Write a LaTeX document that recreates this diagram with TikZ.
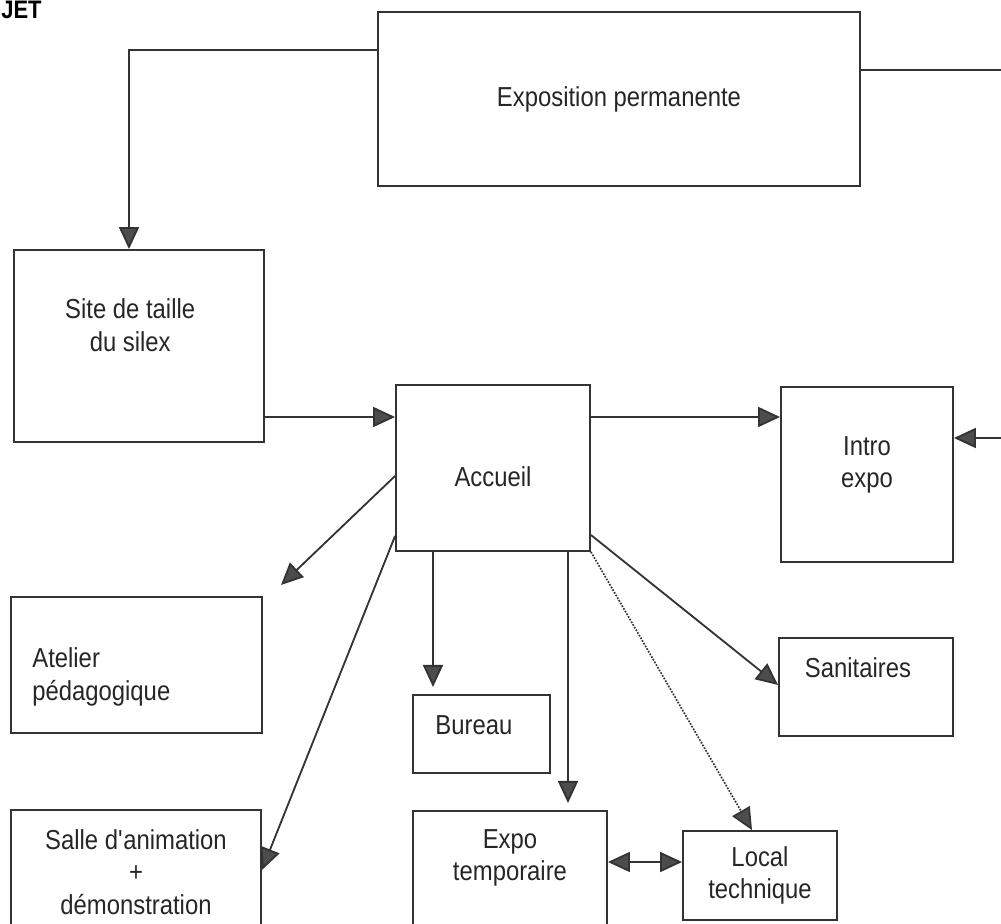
\documentclass[tikz,border=0pt]{standalone}
\usepackage{fontspec}
\setmainfont{Liberation Sans}[FakeStretch=0.87]
\usepackage{tikz}
\usetikzlibrary{arrows.meta}
\tikzset{box/.style={draw=black!80, line width=1.3pt, rectangle, inner sep=0pt, text=black!85}}
\tikzset{txt/.style={align=center, inner sep=0pt, text=black!85}}
\tikzset{link/.style={draw=black!80, line width=1.3pt, -{Triangle[length=5.5mm, width=5mm, fill=black!70]}}}
\tikzset{both/.style={draw=black!80, line width=1.3pt, {Triangle[length=5.5mm, width=5mm, fill=black!70]}-{Triangle[length=5.5mm, width=5mm, fill=black!70]}}}

\begin{document}
\begin{tikzpicture}[x=0.025cm, y=-0.025cm, font=\fontsize{19.5}{23}\selectfont]
{
\useasboundingbox (0,0) rectangle (1001,924);
\clip (0,0) rectangle (1001,924);
\node[anchor=base west, inner sep=0pt, font=\fontsize{18}{20}\selectfont\bfseries] (titre) at (1,19) {JET};

\node[box, minimum width=12.05cm, minimum height=4.35cm] (expo) at (619,99) {Exposition permanente};
\node[box, minimum width=6.25cm, minimum height=4.8cm, label={[txt, xshift=-0.22cm, yshift=0.52cm]center:Site de taille\\du silex}] (site) at (139,346) {};
\node[box, minimum width=4.85cm, minimum height=4.15cm, label={[txt, yshift=-0.22cm]center:Accueil}] (accueil) at (493,468) {};
\node[box, minimum width=4.3cm, minimum height=4.375cm, label={[txt, yshift=0.24cm]center:Intro\\expo}] (intro) at (867,474.5) {};
\node[box, minimum width=6.275cm, minimum height=3.4cm, label={[txt, align=left, anchor=west, xshift=0.55cm, yshift=-0.3cm]west:Atelier\\pédagogique}] (atelier) at (136.5,665) {};
\node[box, minimum width=3.425cm, minimum height=1.95cm, label={[txt, xshift=-0.19cm, yshift=0.22cm]center:Bureau}] (bureau) at (481.5,734) {};
\node[box, minimum width=4.35cm, minimum height=2.45cm, label={[txt, xshift=-0.2cm, yshift=0.48cm]center:Sanitaires}] (sanit) at (866,687) {};
\node[box, minimum width=6.25cm, minimum height=3.5cm, label={[txt, yshift=0.2cm]center:Salle d\textquotesingle animation\\+\\démonstration}] (salle) at (136,880) {};
\node[box, minimum width=4.85cm, minimum height=3.475cm, label={[txt, yshift=0.56cm]center:Expo\\temporaire}] (exptemp) at (510,880.5) {};
\node[box, minimum width=3.85cm, minimum height=2.225cm, label={[txt]center:Local\\technique}] (local) at (760,875.5) {};

\coordinate (sortie) at (1005,70);
\coordinate (entree) at (1005,438);
\coordinate (ateliertip) at (281,585);
\coordinate (bureautip) at (433,687);
\coordinate (exptemptip) at (568,803);

\draw[link] (expo.west |- 0,50) -| (site.north -| 129,0);
\draw[draw=black!80, line width=1.3pt] (expo.east |- sortie) -- (sortie);
\draw[link] (entree) -- (intro.east |- entree);
\draw[link] (site.east |- 0,417) -- (accueil.west |- 0,417);
\draw[link] (accueil.east |- 0,417) -- (intro.west |- 0,417);
\draw[link] (accueil.west |- 0,476) -- (ateliertip);
\draw[link] (accueil.west |- 0,536) -- (salle.east |- 0,870);
\draw[link] (accueil.south -| bureautip) -- (bureautip);
\draw[link] (accueil.south -| exptemptip) -- (exptemptip);
\draw[link] (accueil.east |- 0,535) -- (sanit.west |- 0,685);
\draw[link, line width=1.2pt, dash pattern=on 1.2pt off 1pt] (accueil.south east) -- (local.north -| 752,0);
\draw[both] (exptemp.east |- 0,862) -- (local.west |- 0,862);
}
\end{tikzpicture}
\end{document}
